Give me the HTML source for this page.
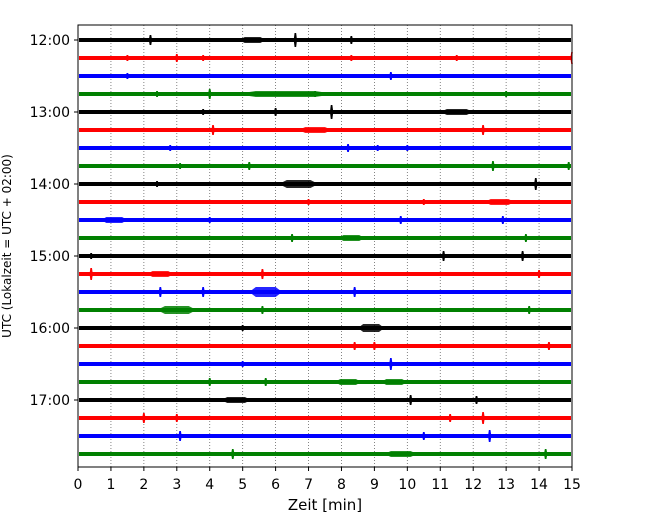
<!DOCTYPE html>
<html><head><meta charset="utf-8"><style>
body{margin:0;background:#fff;}
svg text{font-family:"DejaVu Sans","Liberation Sans",sans-serif;}
</style></head><body>
<svg id="c" width="650" height="520"></svg>
<script>
const traceColors=["#000000","#ff0000","#0000ff","#008000"];
const hourLabels=["12:00","13:00","14:00","15:00","16:00","17:00"];
const xTicks=[0,1,2,3,4,5,6,7,8,9,10,11,12,13,14,15];
const eventTrace=[0,0,0,0,1,1,1,1,1,1,2,2,3,3,3,3,3,4,4,4,4,5,5,5,6,6,6,6,7,7,7,7,8,8,8,9,9,9,10,10,10,10,11,11,11,12,12,12,13,13,13,13,14,14,14,14,15,15,15,16,16,17,17,17,18,18,19,19,19,19,20,20,20,21,21,21,21,22,22,22,23,23,23];
const eventTime=[2.2,6.6,8.3,5.3,1.5,3.0,3.8,8.3,11.5,15.0,1.5,9.5,2.4,4.0,7.2,13.0,6.3,3.8,6.0,7.7,11.5,4.1,7.2,12.3,2.8,8.2,9.1,10.0,3.1,5.2,12.6,14.9,2.4,6.7,13.9,7.0,12.8,10.5,1.1,4.0,9.8,12.9,6.5,8.3,13.6,0.4,11.1,13.5,0.4,2.5,5.6,14.0,2.5,3.8,5.7,8.4,3.0,5.6,13.7,5.0,8.9,8.4,9.0,14.3,9.5,5.0,4.0,5.7,8.2,9.6,4.8,10.1,12.1,2.0,3.0,11.3,12.3,3.1,10.5,12.5,4.7,9.8,14.2];
const eventAmp=[5,7,4,3,3,4,3,3,3,6,3,4,3,5,3,3,3,3,4,7,3,5,3,5,3,4,3,3,3,4,5,4,3,4,6,3,3,3,3,3,4,4,4,3,4,3,5,5,6,3,5,4,5,5,5,5,4,4,4,3,4,4,4,4,6,3,4,4,3,3,3,5,4,5,4,4,6,5,4,6,5,3,5];
const eventDur=[0.1,0.1,0.1,0.8,0.1,0.1,0.1,0.1,0.1,0.1,0.1,0.1,0.1,0.1,0.1,0.1,3.0,0.1,0.1,0.1,1.0,0.1,1.0,0.1,0.1,0.1,0.1,0.1,0.1,0.1,0.1,0.1,0.1,1.2,0.1,0.1,0.9,0.1,0.8,0.1,0.1,0.1,0.1,0.8,0.1,0.1,0.1,0.1,0.1,0.8,0.1,0.1,0.1,0.1,1.0,0.1,1.2,0.1,0.1,0.1,0.8,0.1,0.1,0.1,0.1,0.1,0.1,0.1,0.8,0.8,0.9,0.1,0.1,0.1,0.1,0.1,0.1,0.1,0.1,0.1,0.1,1.0,0.1];

const NS="http://www.w3.org/2000/svg";
const svg=document.getElementById('c');
const L=78,R=572,T=25,B=467;
const xs=m=>L+(R-L)*m/15;
const ys=i=>40+18*i;
function mk(t,a){const e=document.createElementNS(NS,t);for(const k in a)e.setAttribute(k,a[k]);svg.appendChild(e);return e;}

xTicks.forEach(t=>{
  if(t>0&&t<15){const g=mk('line',{x1:xs(t),x2:xs(t),y1:T,y2:B,stroke:'#666','stroke-width':0.8,'stroke-dasharray':'1,2'});
  
  }
  const tk=mk('line',{x1:xs(t),x2:xs(t),y1:B,y2:B+4,stroke:'#000'});
  
  
  const tx=mk('text',{x:xs(t),y:B+22,'text-anchor':'middle','font-size':14});
  tx.textContent=t;
  
  
});
for(let i=0;i<24;i++){
  const y=ys(i),col=traceColors[i%4];
  const ln=mk('rect',{x:L+1,y:y-2,width:R-L-2,height:4,fill:col});
  
  
}
eventTrace.forEach((tr,k)=>{
  const y=ys(tr),col=traceColors[tr%4];
  const x0=xs(Math.max(0,eventTime[k]-eventDur[k]/2)),x1=xs(Math.min(15,eventTime[k]+eventDur[k]/2)),xc=xs(eventTime[k]),a=eventAmp[k];
  let pts;
  if(eventDur[k]>0.3){
    const q0=x0+(xc-x0)*0.4,q1=x1-(x1-xc)*0.4;
    pts=`${x0},${y} ${q0},${y-a} ${q1},${y-a} ${x1},${y} ${q1},${y+a} ${q0},${y+a}`;
  } else {
    pts=`${x0},${y} ${xc-0.8},${y-a} ${xc+0.8},${y-a} ${x1},${y} ${xc+0.8},${y+a} ${xc-0.8},${y+a}`;
  }
  const p=mk('polygon',{points:pts,fill:col,'fill-opacity':eventDur[k]>0.3?0.85:1});
  
  
});
hourLabels.forEach((h,i)=>{
  const y=ys(i*4);
  const tk=mk('line',{x1:L-4,x2:L,y1:y,y2:y,stroke:'#000'});
  
  
  const tx=mk('text',{x:L-8,y:y+5,'text-anchor':'end','font-size':14});
  tx.textContent=h;
  
  
});
const fr=mk('rect',{x:L,y:T,width:R-L,height:B-T,fill:'none',stroke:'#000','stroke-width':1});


const xl=mk('text',{x:(L+R)/2,y:510,'text-anchor':'middle','font-size':15});
xl.setAttribute('xml:space','preserve');
xl.textContent='Zeit  [min]';


const yl=mk('text',{x:0,y:0,'text-anchor':'middle','font-size':12,transform:`translate(11,${(T+B)/2}) rotate(-90)`});
yl.textContent='UTC (Lokalzeit = UTC + 02:00)';


</script>
</body></html>
